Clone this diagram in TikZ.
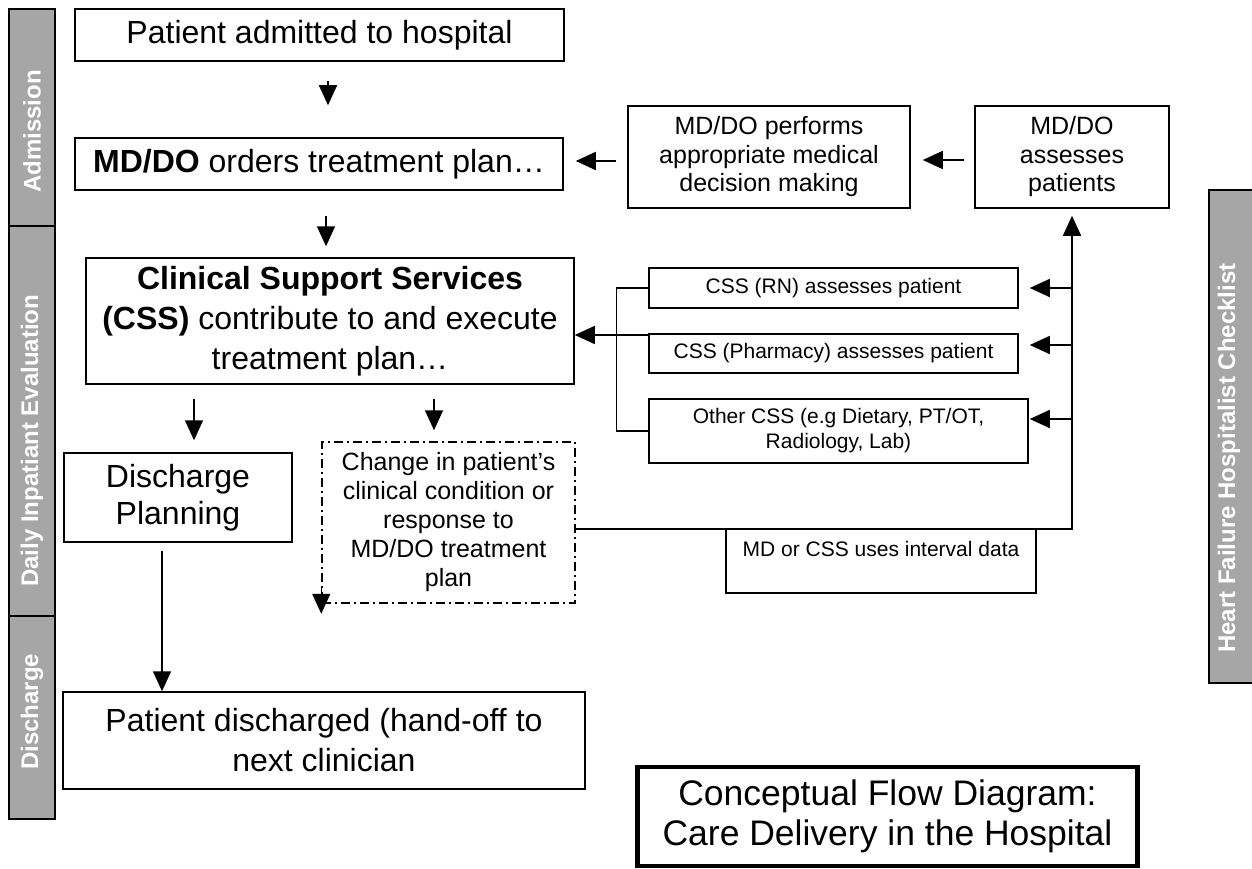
\documentclass[tikz,border=0pt]{standalone}
\usepackage{fontspec}
\setmainfont{Liberation Sans}
\usetikzlibrary{arrows.meta,calc}
\definecolor{barfill}{RGB}{166,166,166}
\tikzset{
  box/.style={draw=black, line width=1.5pt, fill=white, inner sep=0pt, align=center},
  dbox/.style={box, dash pattern=on 9pt off 4pt on 2pt off 4pt},
  arr/.style={line width=1.5pt, -{Triangle[width=18pt,length=20pt]}},
  ln/.style={line width=1.5pt},
  sidebox/.style={draw=black, line width=1.5pt, fill=barfill, inner sep=0pt},
  sidetext/.style={text=white, font=\bfseries\fontsize{24}{28}\selectfont, rotate=90, anchor=west, inner sep=0pt},
  big/.style={font=\fontsize{32}{38}\selectfont},
  mid/.style={font=\fontsize{25}{28.5}\selectfont},
  small/.style={font=\fontsize{21}{25}\selectfont},
}
\begin{document}
\begin{tikzpicture}[x=1pt, y=-1pt]
\useasboundingbox (0,0) rectangle (1252,869);

% side bars
\node[sidebox, minimum width=46, minimum height=217] (sa) at (32,117.5) {};
\node[sidebox, minimum width=46, minimum height=390] (sd) at (32,421) {};
\node[sidebox, minimum width=46, minimum height=203] (sx) at (32,717.5) {};
\node[sidetext] (ta) at (32,193) {Admission};
\node[sidetext] (td) at (32,587) {Daily Inpatiant Evaluation};
\node[sidetext] (tx) at (32,770) {Discharge};
\node[sidebox, minimum width=53, minimum height=493] (sr) at (1235.5,436.5) {};
\node[sidetext] (tr) at (1229,653) {Heart Failure Hospitalist Checklist};

% boxes
\node[box, big, minimum width=489, minimum height=52] (adm) at (319.5,35) {Patient admitted to hospital};
\node[box, big, minimum width=488, minimum height=52] (ord) at (319,164) {\textbf{MD/DO} orders treatment plan…};
\node[box, mid, minimum width=282, minimum height=102] (mdm) at (769,157) {MD/DO performs\\appropriate medical\\decision making};
\node[box, mid, minimum width=194, minimum height=102] (ass) at (1072,157) {MD/DO\\assesses\\patients};
\node[box, font=\fontsize{32}{40}\selectfont, minimum width=488, minimum height=126] (css) at (330,321) {\textbf{Clinical Support Services}\\\textbf{(CSS)} contribute to and execute\\treatment plan…};
\node[box, small, minimum width=369, minimum height=40] (rn) at (833.5,288) {CSS (RN) assesses patient};
\node[box, small, minimum width=369, minimum height=39] (ph) at (833.5,353.5) {CSS (Pharmacy) assesses patient};
\node[box, small, minimum width=379, minimum height=64] (oth) at (838.5,431) {Other CSS (e.g Dietary, PT/OT,\\Radiology, Lab)};
\node[box, font=\fontsize{32}{37}\selectfont, minimum width=228, minimum height=89] (dp) at (178,497.5) {Discharge\\Planning};
\node[dbox, font=\fontsize{25}{29}\selectfont, minimum width=253, minimum height=161] (chg) at (448.5,522.5) {Change in patient’s\\clinical condition or\\response to\\MD/DO treatment\\plan};
\node[box, small, minimum width=310, minimum height=64] (mdc) at (881,561) {MD or CSS uses interval data\\\mbox{}};
\node[box, font=\fontsize{32}{40}\selectfont, minimum width=522, minimum height=97] (pd) at (324,740.5) {Patient discharged (hand-off to\\next clinician};
\node[box, line width=4.5pt, font=\fontsize{35.5}{40}\selectfont, minimum width=500, minimum height=99] (ttl) at (887.5,816.5) {Conceptual Flow Diagram:\\Care Delivery in the Hospital};

% connectors
\draw[arr, shorten <=19pt, shorten >=32pt] ([xshift=8.5pt]adm.south) -- ([xshift=8.5pt]adm.south |- ord.north);
\draw[arr, shorten <=25pt, shorten >=11pt] ([xshift=7pt]ord.south) -- ([xshift=7pt]ord.south |- css.north);
\draw[arr, shorten <=11pt, shorten >=12pt] ([yshift=-4pt]mdm.west) -- ([yshift=-4pt]mdm.west -| ord.east);
\draw[arr, shorten <=10pt, shorten >=12pt] ([yshift=-3pt]ass.west) -- ([yshift=-3pt]ass.west -| mdm.east);
\draw[arr, shorten >=7pt] ([yshift=-6.5pt]chg.east) -| (ass.south);
\draw[arr, shorten >=11pt] (rn.east -| ass.south) -- (rn.east);
\draw[arr, shorten >=11pt] ([yshift=8.5pt]ph.east -| ass.south) -- ([yshift=8.5pt]ph.east);
\draw[arr, shorten >=1pt] ([yshift=12pt]oth.east -| ass.south) -- ([yshift=12pt]oth.east);
\draw[ln] (rn.west) -- ++(-32,0) |- (oth.west);
\draw[arr] ([yshift=-14pt]css.east -| ph.west) -- ([yshift=-14pt]css.east);
\draw[arr, shorten <=14pt, shorten >=12pt] ([xshift=16pt]dp.north |- css.south) -- ([xshift=16pt]dp.north);
\draw[arr, shorten <=14pt, shorten >=11pt] ([xshift=-14.5pt]chg.north |- css.south) -- ([xshift=-14.5pt]chg.north);
\draw[arr, shorten <=8pt] ([xshift=-16pt]dp.south) -- ([xshift=-16pt]dp.south |- pd.north);
\draw[arr] ([yshift=18pt]chg.south west) -- ([yshift=-10pt]chg.south west);
\end{tikzpicture}
\end{document}
